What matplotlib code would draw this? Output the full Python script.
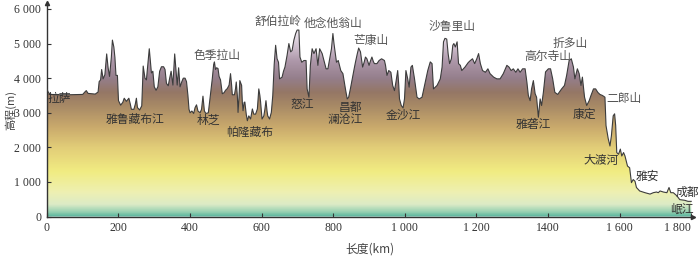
import numpy as np
import matplotlib
matplotlib.use("Agg")
import matplotlib.pyplot as plt
from matplotlib.colors import LinearSegmentedColormap

# profile along the line, Lhasa -> Chengdu
distance_km = [
    0, 3, 8, 20, 60, 100, 106, 110, 115, 135, 143, 146, 150, 153, 157, 162, 167, 171, 175, 180,
    183, 187, 190, 193, 197, 200, 206, 212, 216, 222, 229, 233, 236, 243, 247, 250, 253, 259, 265, 269,
    274, 278, 283, 286, 289, 292, 296, 300, 305, 310, 315, 320, 326, 330, 334, 339, 343, 347, 352, 357,
    361, 364, 368, 372, 377, 381, 386, 390, 394, 397, 400, 405, 410, 414, 418, 422, 428, 432, 436, 440,
    444, 451, 455, 459, 462, 466, 468, 471, 474, 478, 481, 485, 490, 495, 499, 504, 509, 513, 516, 518,
    524, 527, 529, 532, 534, 537, 539, 542, 544, 546, 548, 551, 553, 557, 560, 564, 569, 574, 578, 583,
    588, 592, 595, 597, 601, 606, 609, 612, 615, 617, 622, 627, 631, 635, 639, 643, 647, 650, 657, 661,
    665, 671, 676, 681, 685, 690, 695, 699, 704, 707, 712, 718, 724, 727, 732, 736, 741, 746, 752, 757,
    762, 769, 774, 780, 785, 790, 795, 799, 802, 805, 809, 814, 821, 827, 834, 839, 843, 848, 853, 858,
    862, 867, 871, 876, 882, 886, 890, 894, 900, 904, 908, 912, 915, 922, 928, 935, 943, 946, 950, 955,
    961, 966, 971, 975, 980, 983, 985, 990, 995, 999, 1003, 1008, 1012, 1017, 1021, 1027, 1034, 1040, 1048, 1057,
    1064, 1071, 1076, 1080, 1090, 1099, 1104, 1108, 1112, 1117, 1121, 1125, 1130, 1134, 1137, 1141, 1146, 1150, 1155, 1159,
    1168, 1177, 1183, 1189, 1195, 1201, 1206, 1211, 1217, 1225, 1232, 1238, 1248, 1257, 1266, 1275, 1285, 1291, 1297, 1303,
    1310, 1316, 1322, 1329, 1336, 1341, 1345, 1350, 1354, 1359, 1364, 1368, 1373, 1378, 1382, 1387, 1393, 1401, 1407, 1413,
    1419, 1427, 1438, 1446, 1452, 1459, 1465, 1471, 1475, 1482, 1487, 1492, 1496, 1502, 1508, 1515, 1520, 1527, 1533, 1539,
    1545, 1552, 1559, 1562, 1568, 1573, 1577, 1582, 1586, 1589, 1592, 1597, 1602, 1606, 1611, 1615, 1622, 1628, 1633, 1638,
    1643, 1647, 1656, 1671, 1685, 1694, 1703, 1708, 1713, 1722, 1732, 1738, 1743, 1750, 1760, 1768, 1782, 1791, 1800,
]
elevation_m = [
    3690, 3610, 3540, 3520, 3520, 3530, 3600, 3640, 3560, 3540, 3600, 3900, 3950, 4250, 3980, 4100, 4700, 4300, 4050, 4600,
    5100, 4900, 4600, 4080, 4080, 3350, 3220, 3300, 3420, 3330, 3420, 3250, 3100, 3100, 3250, 3420, 3150, 3080, 3200, 4350,
    4000, 3950, 4500, 4850, 4500, 4150, 4200, 3750, 3650, 3750, 4200, 4330, 4330, 4250, 3850, 3780, 4000, 4200, 3800, 4700,
    4200, 3800, 4300, 3750, 3900, 4000, 4000, 3900, 3500, 3100, 3000, 3050, 2980, 3150, 3230, 3050, 3000, 3100, 3480, 3050,
    2980, 3000, 3350, 3700, 3980, 4400, 4470, 4250, 4300, 4280, 4050, 3950, 3550, 3580, 3650, 3700, 3800, 4130, 3800, 3520,
    3520, 3700, 3890, 3500, 3010, 3500, 3930, 3850, 3790, 3300, 3060, 3300, 3310, 2950, 2770, 2910, 2820, 3110, 2960, 2960,
    3110, 3690, 3500, 3310, 2820, 2910, 3100, 3350, 3050, 2910, 2820, 3010, 3500, 4400, 4950, 4560, 4460, 3980, 4030, 4200,
    4320, 4660, 5000, 4760, 4800, 5100, 5290, 5390, 5390, 4610, 4460, 4510, 4510, 3690, 3450, 4370, 4850, 4710, 4850, 4370,
    4850, 4710, 4510, 4270, 4270, 4560, 4850, 5290, 5000, 4760, 4460, 4510, 4220, 4130, 3690, 3400, 3450, 3700, 3980, 4250,
    4460, 4700, 4870, 4760, 4320, 4450, 4610, 4560, 4370, 4500, 4610, 4480, 4420, 4420, 4510, 4560, 4510, 4370, 4080, 4220,
    4170, 3790, 3640, 3880, 4220, 3800, 3400, 3210, 3140, 3400, 4220, 3980, 3740, 4320, 4370, 3980, 3450, 3400, 3450, 3880,
    4220, 4470, 4420, 3690, 3790, 3980, 4320, 5050, 5150, 5130, 4700, 4420, 4560, 4950, 5000, 4900, 5050, 4420, 4370, 4220,
    4320, 4450, 4510, 4560, 4420, 4560, 4710, 4420, 4220, 4170, 4270, 4130, 4030, 3980, 3980, 4130, 4370, 4320, 4220, 4270,
    4170, 4270, 4170, 4270, 4270, 3880, 3500, 3350, 3690, 3930, 3550, 3450, 2870, 3400, 3210, 3590, 4180, 4270, 4270, 3980,
    3590, 3530, 3690, 3790, 4080, 4510, 4560, 4320, 3980, 4270, 4130, 3790, 4030, 3450, 3210, 3350, 3500, 3690, 3690, 3590,
    3530, 3500, 3450, 2630, 2260, 2040, 2330, 2910, 2970, 2630, 1850, 1800, 1950, 1750, 1850, 1750, 1460, 1410, 980, 1070,
    1020, 840, 740, 690, 650, 690, 710, 690, 740, 710, 690, 840, 690, 690, 600, 490, 470, 440, 440,
]

# place names: (label, km, m)
place_names = ["拉萨", "雅鲁藏布江", "林芝", "帕隆藏布", "怒江", "昌都", "澜沧江", "金沙江",
               "雅砻江", "康定", "大渡河", "雅安", "成都", "岷江"]
place_km = [34, 246, 450, 567, 713, 848, 834, 997, 1358, 1502, 1549, 1677, 1789, 1775]
place_m = [3400, 2800, 2770, 2440, 3230, 3160, 2800, 2920, 2650, 2970, 1610, 1150, 710, 200]

mountain_names = ["色季拉山", "舒伯拉岭", "他念他翁山", "芒康山", "沙鲁里山", "高尔寺山", "折多山", "二郎山"]
mountain_km = [475, 645, 801, 905, 1131, 1398, 1462, 1613]
mountain_m = [4660, 5630, 5580, 5100, 5490, 4640, 5000, 3400]

x_ticks = [0, 200, 400, 600, 800, 1000, 1200, 1400, 1600, 1800]
x_tick_labels = ["0", "200", "400", "600", "800", "1 000", "1 200", "1400", "1 600", "1 800"]
y_ticks = [0, 1000, 2000, 3000, 4000, 5000, 6000]
y_tick_labels = ["0", "1 000", "2 000", "3 000", "4 000", "5 000", "6 000"]

cjk = ["Noto Sans CJK SC", "DejaVu Sans"]
serif = ["Liberation Serif", "DejaVu Serif"]

fig = plt.figure(figsize=(7, 2.56), dpi=100)
ax = fig.add_axes([0.067, 0.154, 0.923, 0.834])

ymax = 6170
xmax = 1805

# elevation colour ramp
stops = [
    (0, "#5cb69e"), (150, "#9ed3b4"), (350, "#dcebc6"), (700, "#eef0b2"),
    (1300, "#f1ec82"), (2000, "#e2cd78"), (2600, "#c9a96c"), (3200, "#a88a66"),
    (3600, "#957765"), (4000, "#947e8b"), (4500, "#ad97a9"), (5000, "#d4c6d4"),
    (5450, "#f8f3f8"), (ymax, "#ffffff"),
]
cmap = LinearSegmentedColormap.from_list("elev", [(v / ymax, c) for v, c in stops])

grad = np.linspace(0, ymax, 400).reshape(-1, 1)
img = ax.imshow(grad, cmap=cmap, vmin=0, vmax=ymax, origin="lower",
                extent=[0, distance_km[-1], 0, ymax], aspect="auto", zorder=1)
poly = ax.fill_between(distance_km, elevation_m, 0, color="none", lw=0)
img.set_clip_path(poly.get_paths()[0], transform=ax.transData)
ax.plot(distance_km, elevation_m, color="#3c3c3c", lw=0.8, zorder=3)

for name, x, y in zip(place_names, place_km, place_m):
    ax.text(x, y, name, fontsize=8.5, family=cjk, color="#333333",
            ha="center", va="center", zorder=4)
for name, x, y in zip(mountain_names, mountain_km, mountain_m):
    ax.text(x, y, name, fontsize=8.5, family=cjk, color="#555555",
            ha="center", va="center", zorder=4)

ax.set_xlim(0, xmax)
ax.set_ylim(0, ymax)
ax.set_xticks(x_ticks)
ax.set_xticklabels(x_tick_labels, family=serif, fontsize=8.5, color="#333333")
ax.get_xticklabels()[-1].set_horizontalalignment("right")
ax.set_yticks(y_ticks)
ax.set_yticklabels(y_tick_labels, family=serif, fontsize=8.5, color="#333333")
ax.tick_params(direction="in", length=3, width=0.8, color="#333333", pad=4)

for s in ["top", "right"]:
    ax.spines[s].set_visible(False)
for s in ["left", "bottom"]:
    ax.spines[s].set_color("#333333")
    ax.spines[s].set_linewidth(1.0)
ax.plot(1, 0, ">", color="#333333", ms=3, transform=ax.transAxes, clip_on=False)
ax.plot(0, 1, "^", color="#333333", ms=3, transform=ax.transAxes, clip_on=False)

ax.set_xlabel("长度(km)", family=cjk, fontsize=8.5, color="#444444", labelpad=6)
ax.set_ylabel("高程(m)", family=cjk, fontsize=8, color="#444444")
ax.yaxis.set_label_coords(-0.048, 0.5)

fig.savefig("out.png", dpi=100, facecolor="white")
